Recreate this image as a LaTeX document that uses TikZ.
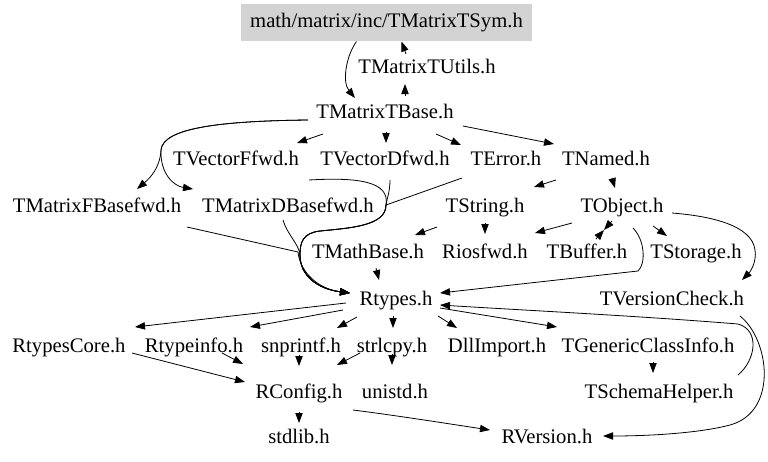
\documentclass[tikz,border=0pt]{standalone}
\usepackage{fontspec}
\setmainfont{Liberation Serif}
\usetikzlibrary{arrows.meta,calc}
\definecolor{topgray}{RGB}{211,211,211}
\begin{document}
\begin{tikzpicture}[x=0.75pt,y=-0.75pt,
  lbl/.style={inner xsep=1pt, inner ysep=2pt, text height=11pt, text depth=3.5pt,
              font=\fontsize{15.5}{18}\selectfont},
  rootbox/.style={lbl, fill=topgray, minimum width=218pt, minimum height=27.75pt},
  arr/.style={draw=black, line width=0.6pt, -{Triangle[length=7.5pt,width=5.5pt]}}
]
\path[use as bounding box, fill=white] (0,0) rectangle (768,461);

% nodes
\node[rootbox] (top) at (386.5,22.5) {math/matrix/inc/TMatrixTSym.h};
\node[lbl] (utils) at (427,68) {TMatrixTUtils.h};
\node[lbl] (base) at (385,113) {TMatrixTBase.h};
\node[lbl] (vff) at (236,160) {TVectorFfwd.h};
\node[lbl] (vdf) at (385,160) {TVectorDfwd.h};
\node[lbl] (terr) at (506,160) {TError.h};
\node[lbl] (tnam) at (606,160) {TNamed.h};
\node[lbl] (mfb) at (97,207) {TMatrixFBasefwd.h};
\node[lbl] (mdb) at (288,207) {TMatrixDBasefwd.h};
\node[lbl] (tstr) at (485,207) {TString.h};
\node[lbl] (tobj) at (622,207) {TObject.h};
\node[lbl] (tmath) at (368,253) {TMathBase.h};
\node[lbl] (rios) at (485,253) {Riosfwd.h};
\node[lbl] (tbuf) at (587,253) {TBuffer.h};
\node[lbl] (tsto) at (696,253) {TStorage.h};
\node[lbl] (rtyp) at (396,300) {Rtypes.h};
\node[lbl] (tver) at (672,300) {TVersionCheck.h};
\node[lbl] (rcore) at (69,347) {RtypesCore.h};
\node[lbl] (rinfo) at (194,347) {Rtypeinfo.h};
\node[lbl] (snp) at (301,347) {snprintf.h};
\node[lbl] (strl) at (392,347) {strlcpy.h};
\node[lbl] (dll) at (497,347) {DllImport.h};
\node[lbl] (tgen) at (648,347) {TGenericClassInfo.h};
\node[lbl] (rconf) at (299,393) {RConfig.h};
\node[lbl] (unistd) at (395,393) {unistd.h};
\node[lbl] (tsch) at (659,393) {TSchemaHelper.h};
\node[lbl] (stdl) at (299,438) {stdlib.h};
\node[lbl] (rver) at (547,438) {RVersion.h};

% edges: top levels
\draw[arr] ($(top)+(-30,19)$) .. controls (346,56) and (342,82) .. ($(base)+(-30,-15)$);
\draw[arr] ($(utils)+(-21,-14)$) -- ($(top)+(15,19)$);
\draw[arr] ($(base)+(20,-17)$) -- ($(utils)+(-22,16)$);

% TMatrixTBase fan-out
\draw[arr] ($(base)+(-77,7)$) .. controls (220,121) and (163,128) .. (161,150)
           .. controls (160,168) and (150,178) .. ($(mfb)+(40,-18)$);
\draw[arr] ($(base)+(-77,7)$) .. controls (220,121) and (163,128) .. (161,150)
           .. controls (160,174) and (174,186) .. ($(mdb)+(-95,-18)$);
\draw[arr] ($(base)+(-62,21)$) -- ($(vff)+(61,-17)$);
\draw[arr] ($(base)+(1,19)$) -- ($(vdf)+(1,-17)$);
\draw[arr] ($(base)+(51,21)$) -- ($(terr)+(-45,-15)$);
\draw[arr] ($(base)+(78,13)$) -- ($(tnam)+(-52,-16)$);

% merged bundle into Rtypes.h
\draw[arr] ($(vff)+(73,20)$) .. controls (360,177) and (390,182) .. (386,205)
           .. controls (386,226) and (350,228) .. (320,231)
           .. controls (303,233) and (300,242) .. (300,255)
           .. controls (300,276) and (318,289) .. ($(rtyp)+(-46,-7)$);
\draw[arr] ($(vdf)+(5,20)$) .. controls (390,192) and (387,198) .. (386,205)
           .. controls (386,226) and (350,228) .. (320,231)
           .. controls (303,233) and (300,242) .. (300,255)
           .. controls (300,276) and (318,289) .. ($(rtyp)+(-46,-7)$);
\draw[arr] ($(terr)+(-44,18)$) -- (386,205)
           .. controls (386,226) and (350,228) .. (320,231)
           .. controls (303,233) and (300,242) .. (300,255)
           .. controls (300,276) and (318,289) .. ($(rtyp)+(-46,-7)$);
\draw[arr] ($(mdb)+(-5,13)$) .. controls (288,236) and (299,244) .. (300,255)
           .. controls (300,276) and (318,289) .. ($(rtyp)+(-46,-7)$);
\draw[arr] ($(mfb)+(90,20)$) -- (298,252)
           .. controls (300,272) and (318,289) .. ($(rtyp)+(-46,-7)$);

% TNamed / TString / TObject
\draw[arr] ($(tnam)+(-50,20)$) -- ($(tstr)+(49,-20)$);
\draw[arr] ($(tnam)+(6,18)$) -- ($(tobj)+(-7,-19)$);
\draw[arr] ($(tstr)+(-48,20)$) -- ($(tmath)+(47,-18)$);
\draw[arr] ($(tstr)+(0,16)$) -- ($(rios)+(0,-19)$);
\draw[arr] ($(tobj)+(-50,16)$) -- ($(rios)+(50,-20)$);
\draw[arr] ($(tobj)+(-10,14)$) -- ($(tbuf)+(17,-23)$);
\draw[arr] ($(tbuf)+(9,-14)$) -- ($(tobj)+(-18,23)$);
\draw[arr] ($(tobj)+(31,19)$) -- ($(tsto)+(-29,-17)$);
\draw[arr] ($(tobj)+(11,21)$) .. controls (645,240) and (646,264) .. (638,271)
           -- ($(rtyp)+(44,-7)$);
\draw[arr] ($(tobj)+(50,6)$) .. controls (710,216) and (752,225) .. (755,250)
           .. controls (757,262) and (750,272) .. ($(tver)+(70,-20)$);
\draw[arr] ($(tmath)+(8,15)$) -- ($(rtyp)+(-17,-20)$);

% Rtypes.h fan-out
\draw[arr] ($(rtyp)+(-50,3)$) -- ($(rcore)+(66,-20)$);
\draw[arr] ($(rtyp)+(-53,10)$) -- ($(rinfo)+(56,-20)$);
\draw[arr] ($(rtyp)+(-39,17)$) -- ($(snp)+(36,-19)$);
\draw[arr] ($(rtyp)+(-3,16)$) -- ($(strl)+(1,-19)$);
\draw[arr] ($(rtyp)+(42,16)$) -- ($(dll)+(-40,-19)$);
\draw[arr] ($(rtyp)+(44,8)$) -- ($(tgen)+(-91,-20)$);
\draw[arr] ($(tsch)+(79,-18)$) .. controls (756,360) and (760,330) .. (738,324)
           .. controls (640,316) and (520,310) .. ($(rtyp)+(44,5)$);
\draw[arr] ($(tver)+(68,16)$) .. controls (770,340) and (778,412) .. (730,425)
           .. controls (700,433) and (650,436) .. ($(rver)+(56,-2)$);

% lower rows
\draw[arr] ($(rcore)+(63,6)$) -- ($(rconf)+(-54,-11)$);
\draw[arr] ($(rinfo)+(28,6)$) -- ($(rconf)+(-56,-29)$);
\draw[arr] ($(snp)+(-2,8)$) -- ($(rconf)+(0,-27)$);
\draw[arr] ($(strl)+(-32,6)$) -- ($(rconf)+(38,-28)$);
\draw[arr] ($(strl)+(0,7)$) -- ($(unistd)+(-3,-28)$);
\draw[arr] ($(tgen)+(5,15)$) -- ($(tsch)+(-6,-20)$);
\draw[arr] ($(rconf)+(0,19)$) -- ($(stdl)+(0,-15)$);
\draw[arr] ($(rconf)+(54,17)$) .. controls (400,416) and (450,424) .. ($(rver)+(-57,-8)$);
\end{tikzpicture}
\end{document}
